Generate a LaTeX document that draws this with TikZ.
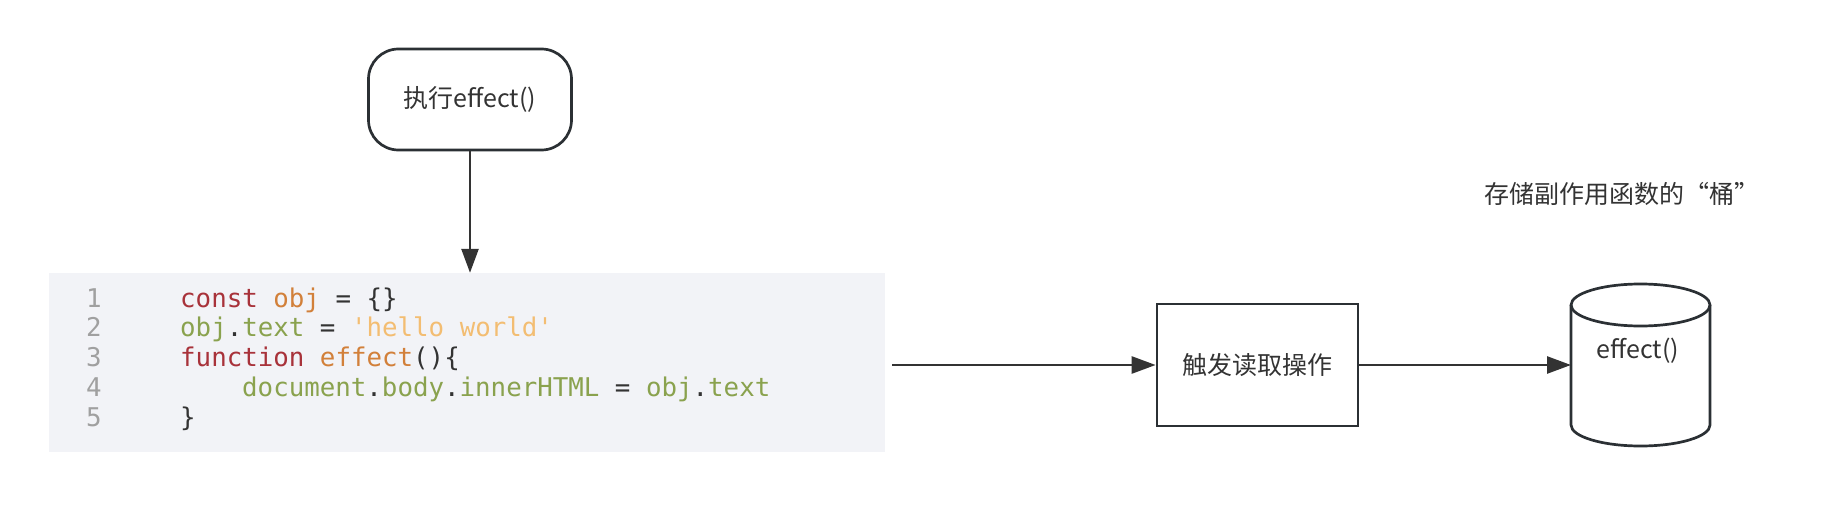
\documentclass[tikz,border=0pt]{standalone}
\usepackage{fontspec}
\setmainfont{Noto Sans CJK SC}
\setmonofont{DejaVu Sans Mono}
\usetikzlibrary{arrows.meta, positioning}

\definecolor{inkgray}{HTML}{333333}
\definecolor{edgegray}{HTML}{2B3034}
\definecolor{codebg}{HTML}{F2F3F7}
\definecolor{kwred}{HTML}{A8323A}
\definecolor{idorange}{HTML}{D2803A}
\definecolor{propgreen}{HTML}{8AA24E}
\definecolor{strorange}{HTML}{F3BD72}
\definecolor{lnogray}{HTML}{A0A0A0}

\begin{document}
\begin{tikzpicture}[x=1pt, y=-1pt, >={Triangle[length=24pt, width=17pt]},
  every node/.style={font=\fontsize{25}{30}\selectfont, text=inkgray},
  flow/.style={->, line width=2.6pt, draw=inkgray},
  term/.style={draw=edgegray, line width=2.7pt, rounded corners=30pt,
               minimum width=203pt, minimum height=101pt},
  box/.style={draw=edgegray, line width=2.7pt,
              minimum width=201pt, minimum height=122pt},
  codeline/.style={anchor=base west, inner sep=0pt,
                   font=\fontsize{25.8}{30}\selectfont\ttfamily},
  lineno/.style={anchor=base, inner sep=0pt, text=lnogray,
                 font=\fontsize{25.8}{30}\selectfont\ttfamily}]
  \useasboundingbox (0,0) rectangle (1845,508);

  \node[term] (start) at (470,99.5) {执行effect()};

  % code block
  \node[fill=codebg, inner sep=0pt, minimum width=836pt,
        minimum height=179pt] (code) at (467,362.5) {};
  \node[lineno] (n1) at (94,307) {1};
  \node[lineno] (n2) at (94,336.8) {2};
  \node[lineno] (n3) at (94,366.6) {3};
  \node[lineno] (n4) at (94,396.4) {4};
  \node[lineno] (n5) at (94,426.2) {5};
  \node[codeline] (c1) at (180,307)
    {{\color{kwred}const} {\color{idorange}obj} = \{\}};
  \node[codeline] (c2) at (180,336.8)
    {{\color{propgreen}obj}.{\color{propgreen}text} = {\color{strorange}'hello world'}};
  \node[codeline] (c3) at (180,366.6)
    {{\color{kwred}function} {\color{idorange}effect}()\{};
  \node[codeline] (c4) at (242,396.4)
    {{\color{propgreen}document}.{\color{propgreen}body}.{\color{propgreen}innerHTML}
     = {\color{propgreen}obj}.{\color{propgreen}text}};
  \node[codeline] (c5) at (180,426.2) {\}};

  \node[box] (trigger) at (1257.5,365) {触发读取操作};

  % bucket
  \node[inner sep=0pt, outer sep=0pt, minimum width=139pt,
        minimum height=162pt] (bucket) at (1640.5,365) {};
  \draw[line width=2.7pt, draw=edgegray]
    ([yshift=-21pt]bucket.north) ellipse [x radius=69.5pt, y radius=21pt];
  \draw[line width=2.7pt, draw=edgegray]
    ([yshift=-21pt]bucket.north west) -- ([yshift=21pt]bucket.south west)
    arc[start angle=180, end angle=360, x radius=69.5pt, y radius=21pt]
    -- ([yshift=-21pt]bucket.north east);
  \node (bucketlbl) at (1638,351) {effect()};
  \node (bucketttl) at (1622,194) {存储副作用函数的“桶”};

  \draw[flow] (start) -- (start |- code.north);
  \draw[flow, shorten <=7pt] (code.east |- trigger) -- (trigger);
  \draw[flow] (trigger) -- (bucket);
\end{tikzpicture}
\end{document}
